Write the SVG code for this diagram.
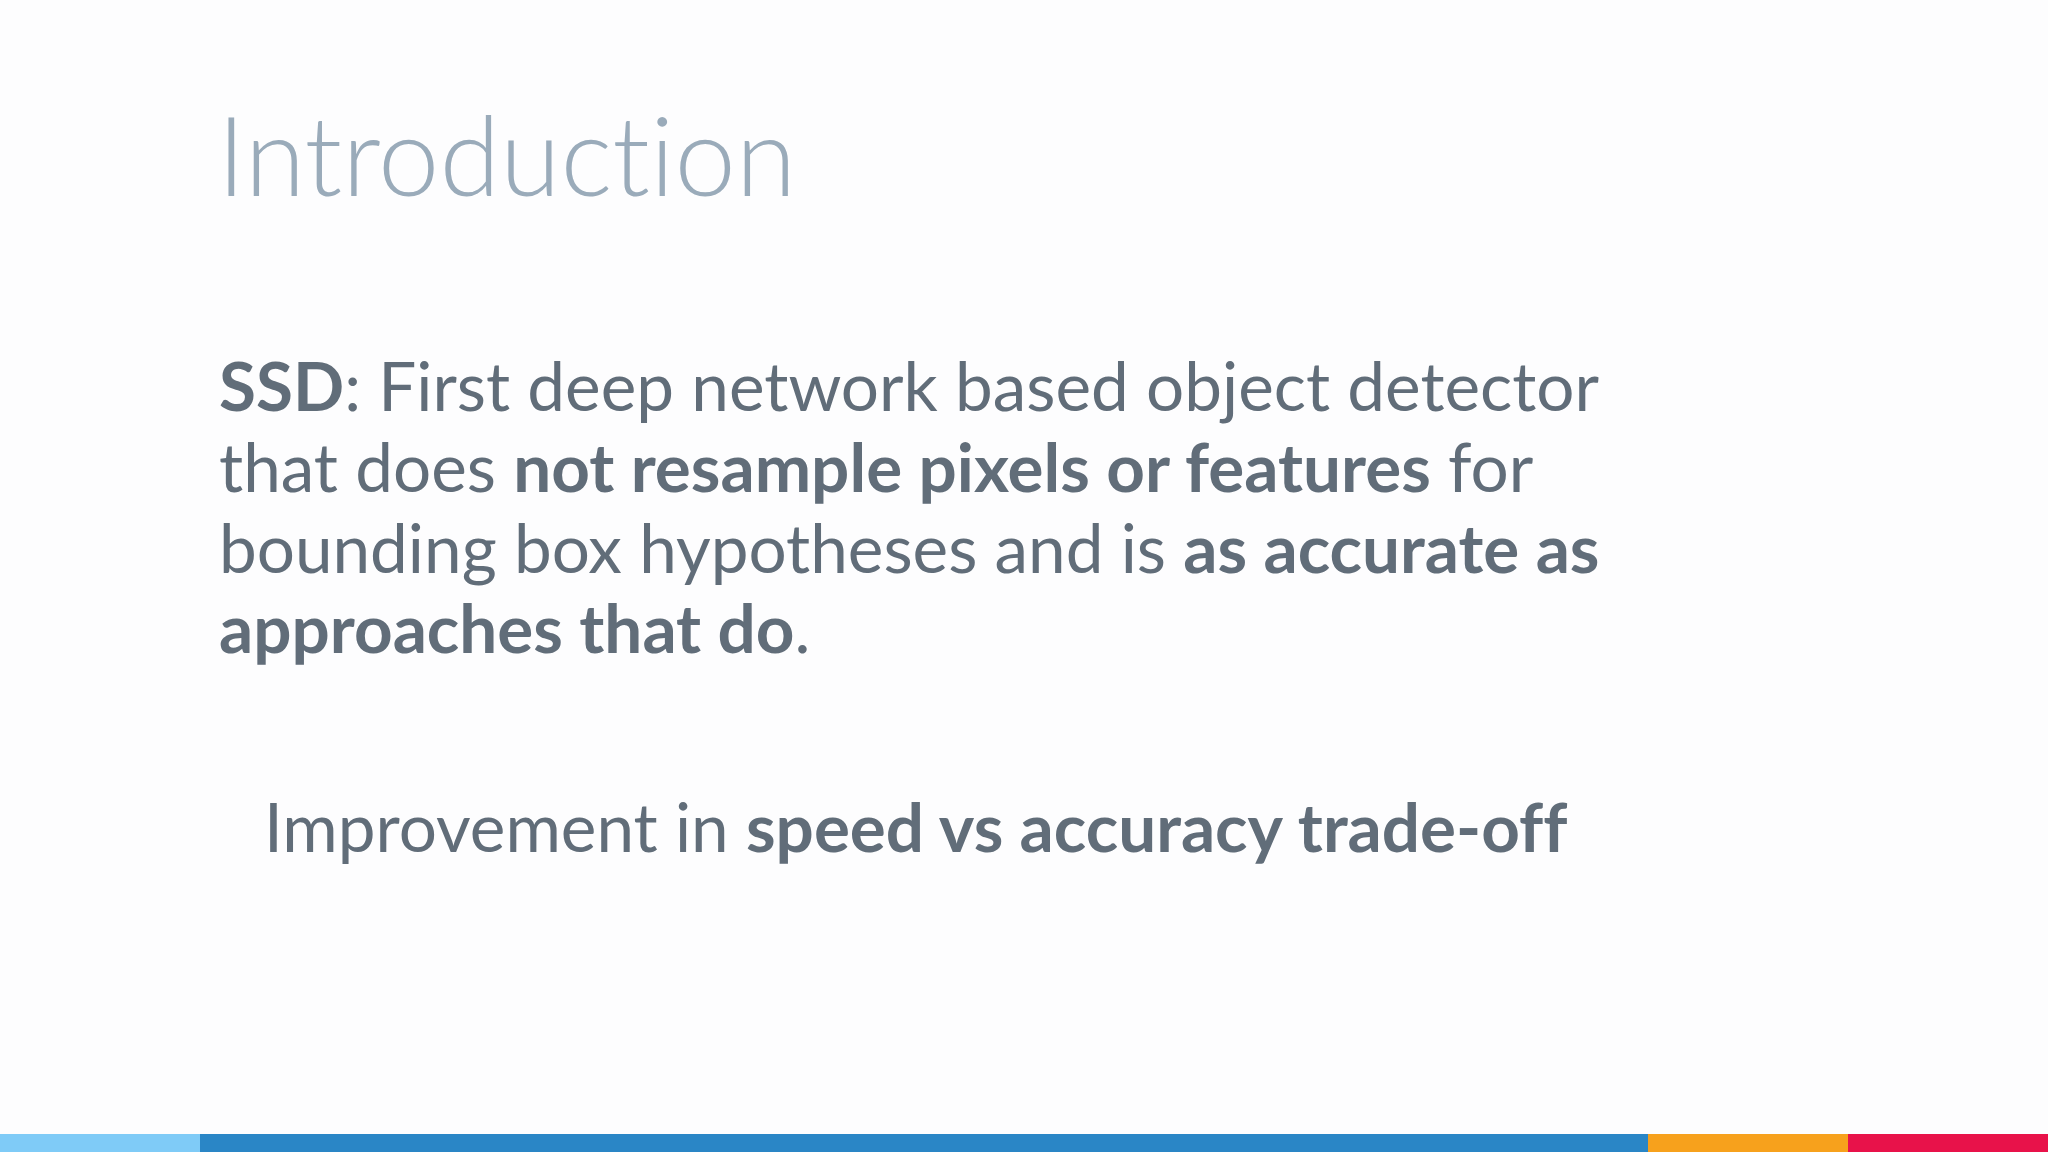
<svg xmlns="http://www.w3.org/2000/svg" width="2048" height="1152" viewBox="0 0 2048 1152">
<style>
text{font-variant-ligatures:none;font-feature-settings:"liga" 0}
.t{font-family:Lato,"Liberation Sans",sans-serif;fill:#616d79;font-size:67.4px}
.b{font-weight:700}
</style>
<rect width="2048" height="1152" fill="#fdfdfe"/>
<text x="217" y="196" font-family="Lato,'Liberation Sans',sans-serif" font-weight="300" font-size="110" fill="#9aabba">Introduction</text>
<g id="body">
<text class="t" x="219" y="411"><tspan class="b">SSD</tspan>: First deep network based object detector</text>
<text class="t" x="219" y="492">that does <tspan class="b">not resample pixels or features</tspan> for</text>
<text class="t" x="219" y="573">bounding box hypotheses and is <tspan class="b">as accurate as</tspan></text>
<text class="t" x="219" y="653"><tspan class="b">approaches that do</tspan>.</text>
<text class="t" x="264" y="852">Improvement in <tspan class="b">speed vs accuracy trade-off</tspan></text>
</g>
<g id="bar">
<rect x="0" y="1134" width="200" height="18" fill="#7fcbf7"/>
<rect x="200" y="1134" width="1448" height="18" fill="#2a86c6"/>
<rect x="1648" y="1134" width="200" height="18" fill="#f7a11c"/>
<rect x="1848" y="1134" width="200" height="18" fill="#e8124a"/>
</g>
</svg>
